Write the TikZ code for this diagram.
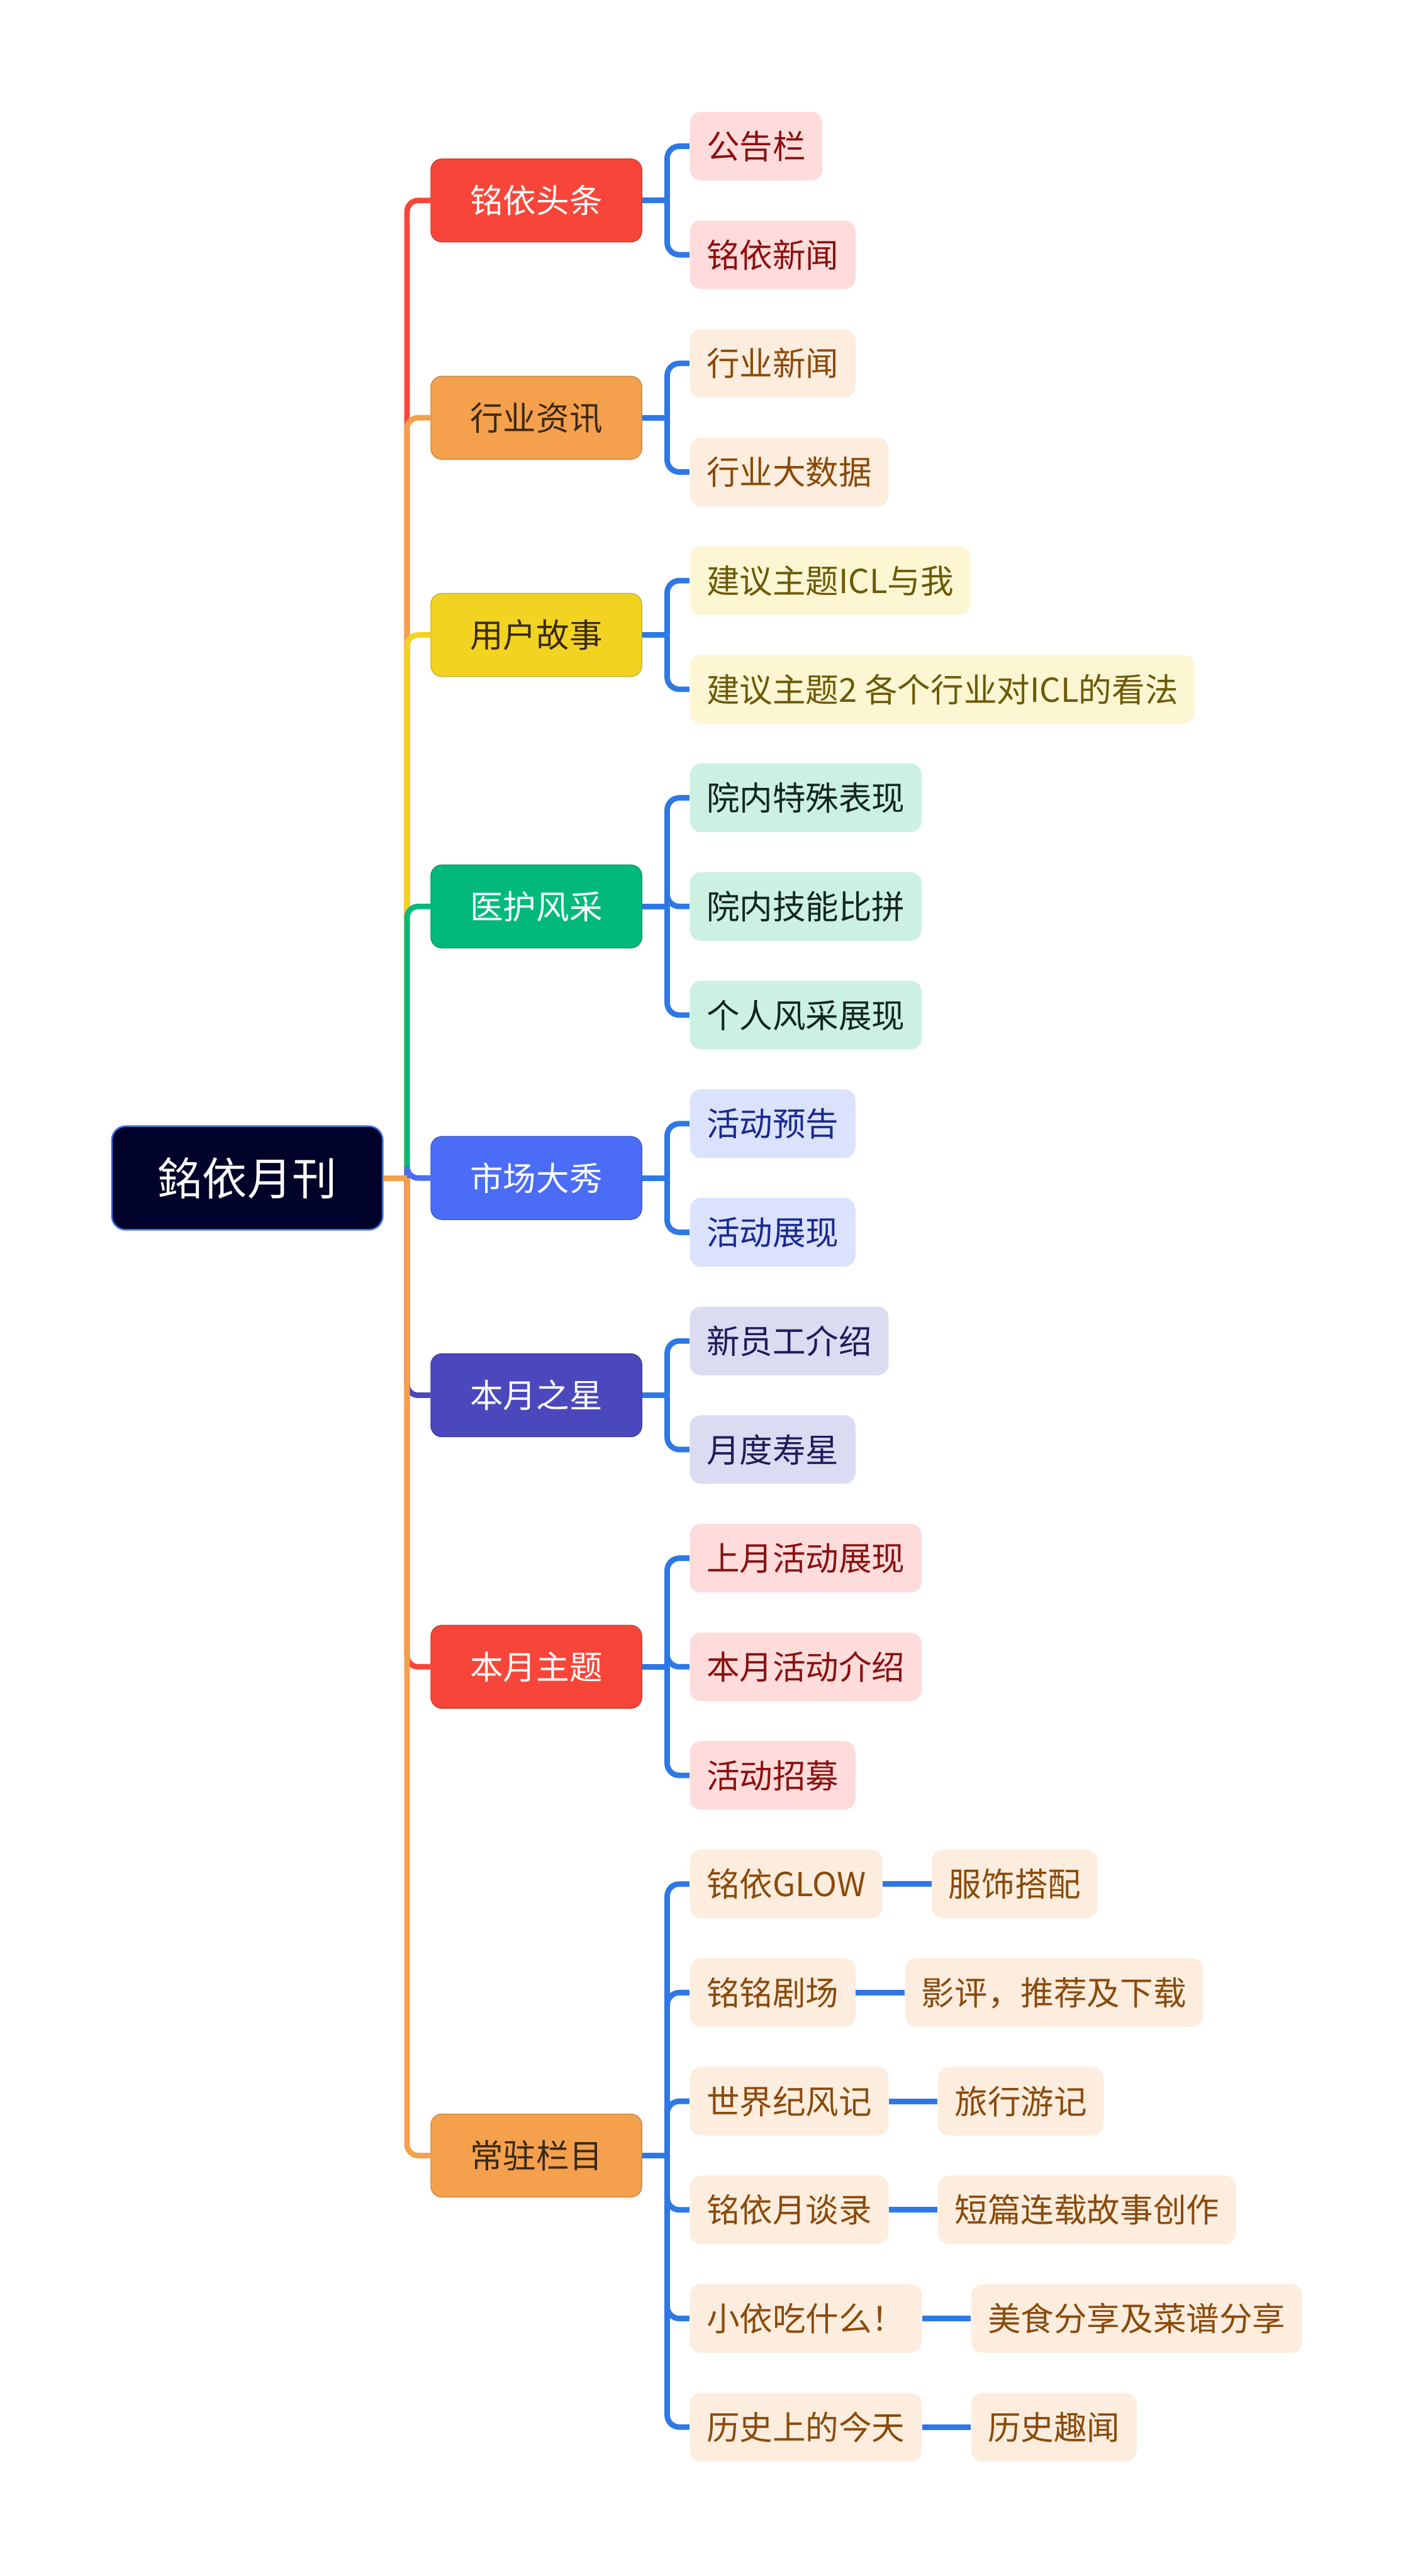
\documentclass[tikz,border=0pt]{standalone}
\usepackage{fontspec}
\setmainfont{Noto Sans CJK SC}
\usetikzlibrary{positioning}
\definecolor{Ink}{HTML}{00022A}
\definecolor{InkEdge}{HTML}{3B6FD9}
\definecolor{Wire}{HTML}{2E78E6}
\definecolor{Umber}{HTML}{3A2A16}
\definecolor{Brick}{HTML}{F74639}
\definecolor{BrickSoft}{HTML}{FDDCDB}
\definecolor{BrickText}{HTML}{8B1010}
\definecolor{Ochre}{HTML}{F5A04C}
\definecolor{OchreSoft}{HTML}{FDEDDE}
\definecolor{OchreText}{HTML}{8B4A0B}
\definecolor{Lemon}{HTML}{F2D322}
\definecolor{LemonSoft}{HTML}{FCF6D3}
\definecolor{LemonText}{HTML}{6B5A05}
\definecolor{Jade}{HTML}{00B97A}
\definecolor{JadeSoft}{HTML}{CCF1E3}
\definecolor{JadeText}{HTML}{10261E}
\definecolor{Cobalt}{HTML}{4A6CF7}
\definecolor{CobaltSoft}{HTML}{DBE2FD}
\definecolor{CobaltText}{HTML}{1A2A8F}
\definecolor{Iris}{HTML}{4B48BE}
\definecolor{IrisSoft}{HTML}{DBDBF1}
\definecolor{IrisText}{HTML}{1E1B5C}
\tikzset{
  hub/.style={draw=InkEdge,fill=Ink,text=white,line width=.85pt,rounded corners=.25cm,minimum width=4.89cm,minimum height=1.87cm,font=\fontsize{23pt}{27pt}\selectfont,text height=20.2pt,text depth=2.8pt},
  topic/.style={draw=#1!80!black,fill=#1,text=white,line width=.4pt,rounded corners=.2cm,minimum width=3.81cm,minimum height=1.5cm,font=\fontsize{17pt}{20pt}\selectfont,text height=15pt,text depth=2pt},
  leaf/.style={fill=#1Soft,text=#1Text,rounded corners=.2cm,minimum height=1.24cm,inner xsep=.3cm,anchor=west,font=\fontsize{17pt}{20pt}\selectfont,text height=15pt,text depth=2pt},
  limb/.style={draw=#1,line width=.1cm,rounded corners=.2cm},
  twig/.style={draw=Wire,line width=.1cm,rounded corners=.22cm}
}
\begin{document}
\begin{tikzpicture}
  \path[fill=white] (0,0) rectangle (25.6,-46.53);
  \useasboundingbox (0,0) rectangle (25.6,-46.53);
  % centre
  \node[hub] (monthly) at (4.465,-21.278) {銘依月刊};
  \coordinate (trunk) at (7.35,-21.278);
  % main branches
  \node[topic=Brick] (headline) at (9.685,-3.621) {铭依头条};
  \node[topic=Ochre,text=Umber] (industry) at (9.685,-7.545) {行业资讯};
  \node[topic=Lemon,text=Umber] (stories) at (9.685,-11.469) {用户故事};
  \node[topic=Jade] (medical) at (9.685,-16.373) {医护风采};
  \node[topic=Cobalt] (market) at (9.685,-21.278) {市场大秀};
  \node[topic=Iris] (stars) at (9.685,-25.202) {本月之星};
  \node[topic=Brick] (theme) at (9.685,-30.107) {本月主题};
  \node[topic=Ochre,text=Umber] (columns) at (9.685,-38.935) {常驻栏目};
  % sub topics
  \node[leaf=Brick] (notice) at (12.45,-2.64) {公告栏};
  \node[leaf=Brick] (news) at (12.45,-4.602) {铭依新闻};
  \node[leaf=Ochre] (indnews) at (12.45,-6.564) {行业新闻};
  \node[leaf=Ochre] (inddata) at (12.45,-8.526) {行业大数据};
  \node[leaf=Lemon] (topicone) at (12.45,-10.488) {建议主题ICL与我};
  \node[leaf=Lemon] (topictwo) at (12.45,-12.45) {建议主题2 各个行业对ICL的看法};
  \node[leaf=Jade] (special) at (12.45,-14.411) {院内特殊表现};
  \node[leaf=Jade] (skills) at (12.45,-16.373) {院内技能比拼};
  \node[leaf=Jade] (personal) at (12.45,-18.335) {个人风采展现};
  \node[leaf=Cobalt] (preview) at (12.45,-20.297) {活动预告};
  \node[leaf=Cobalt] (showcase) at (12.45,-22.259) {活动展现};
  \node[leaf=Iris] (newstaff) at (12.45,-24.221) {新员工介绍};
  \node[leaf=Iris] (birthday) at (12.45,-26.183) {月度寿星};
  \node[leaf=Brick] (lastmonth) at (12.45,-28.145) {上月活动展现};
  \node[leaf=Brick] (thismonth) at (12.45,-30.107) {本月活动介绍};
  \node[leaf=Brick] (recruit) at (12.45,-32.069) {活动招募};
  \node[leaf=Ochre] (glow) at (12.45,-34.03) {铭依GLOW};
  \node[leaf=Ochre] (theatre) at (12.45,-35.992) {铭铭剧场};
  \node[leaf=Ochre] (world) at (12.45,-37.954) {世界纪风记};
  \node[leaf=Ochre] (talk) at (12.45,-39.916) {铭依月谈录};
  \node[leaf=Ochre] (food) at (12.45,-41.878) {小依吃什么！};
  \node[leaf=Ochre] (history) at (12.45,-43.84) {历史上的今天};
  % third level
  \node[leaf=Ochre,right=.88cm of glow] (outfit) {服饰搭配};
  \node[leaf=Ochre,right=.88cm of theatre] (review) {影评，推荐及下载};
  \node[leaf=Ochre,right=.88cm of world] (travel) {旅行游记};
  \node[leaf=Ochre,right=.88cm of talk] (serial) {短篇连载故事创作};
  \node[leaf=Ochre,right=.88cm of food] (recipes) {美食分享及菜谱分享};
  \node[leaf=Ochre,right=.88cm of history] (trivia) {历史趣闻};
  % trunk lines
  \draw[limb=Brick] (trunk) |- (headline.west);
  \draw[limb=Ochre] (trunk) |- (industry.west);
  \draw[limb=Lemon] (trunk) |- (stories.west);
  \draw[limb=Jade] (trunk) |- (medical.west);
  \draw[limb=Cobalt] (trunk) |- (market.west);
  \draw[limb=Iris] (trunk) |- (stars.west);
  \draw[limb=Brick] (trunk) |- (theme.west);
  \draw[limb=Ochre] (trunk) |- (columns.west);
  \draw[limb=Ochre] (monthly.east) -- (trunk);
  % buses
  \draw[twig] (headline.east) -- ++(.45,0) coordinate (headlinebus);
  \draw[twig] (headlinebus) |- (notice.west);
  \draw[twig] (headlinebus) |- (news.west);
  \draw[twig] (industry.east) -- ++(.45,0) coordinate (industrybus);
  \draw[twig] (industrybus) |- (indnews.west);
  \draw[twig] (industrybus) |- (inddata.west);
  \draw[twig] (stories.east) -- ++(.45,0) coordinate (storiesbus);
  \draw[twig] (storiesbus) |- (topicone.west);
  \draw[twig] (storiesbus) |- (topictwo.west);
  \draw[twig] (medical.east) -- ++(.45,0) coordinate (medicalbus);
  \draw[twig] (medicalbus) |- (special.west);
  \draw[twig] (medicalbus) |- (skills.west);
  \draw[twig] (medicalbus) |- (personal.west);
  \draw[twig] (market.east) -- ++(.45,0) coordinate (marketbus);
  \draw[twig] (marketbus) |- (preview.west);
  \draw[twig] (marketbus) |- (showcase.west);
  \draw[twig] (stars.east) -- ++(.45,0) coordinate (starsbus);
  \draw[twig] (starsbus) |- (newstaff.west);
  \draw[twig] (starsbus) |- (birthday.west);
  \draw[twig] (theme.east) -- ++(.45,0) coordinate (themebus);
  \draw[twig] (themebus) |- (lastmonth.west);
  \draw[twig] (themebus) |- (thismonth.west);
  \draw[twig] (themebus) |- (recruit.west);
  \draw[twig] (columns.east) -- ++(.45,0) coordinate (columnsbus);
  \draw[twig] (columnsbus) |- (glow.west);
  \draw[twig] (columnsbus) |- (theatre.west);
  \draw[twig] (columnsbus) |- (world.west);
  \draw[twig] (columnsbus) |- (talk.west);
  \draw[twig] (columnsbus) |- (food.west);
  \draw[twig] (columnsbus) |- (history.west);
  % side notes
  \draw[twig] (glow.east) -- (outfit.west);
  \draw[twig] (theatre.east) -- (review.west);
  \draw[twig] (world.east) -- (travel.west);
  \draw[twig] (talk.east) -- (serial.west);
  \draw[twig] (food.east) -- (recipes.west);
  \draw[twig] (history.east) -- (trivia.west);
\end{tikzpicture}
\end{document}
